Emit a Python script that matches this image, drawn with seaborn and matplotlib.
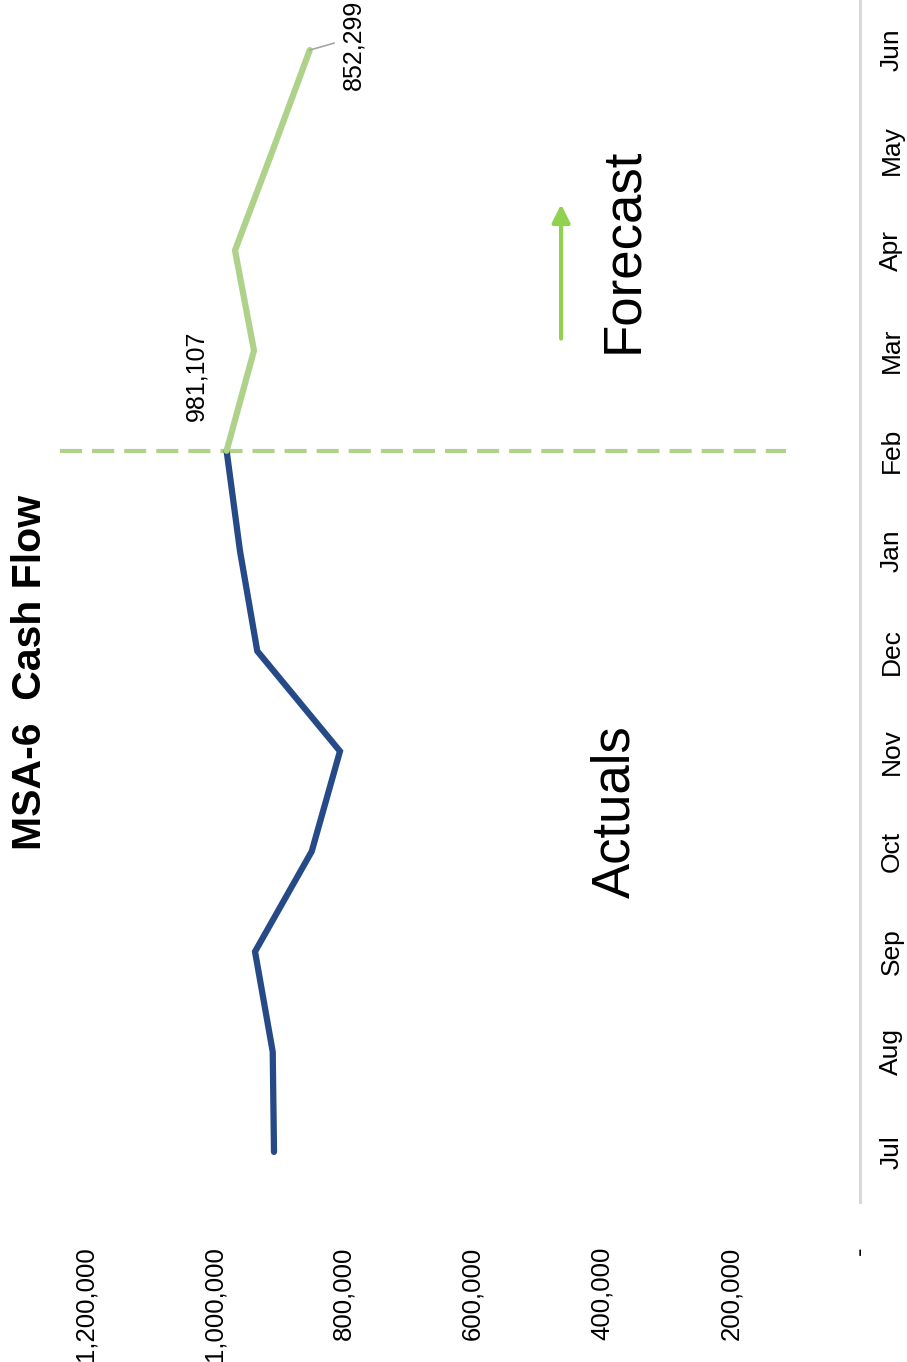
import matplotlib
matplotlib.use("Agg")
import matplotlib.pyplot as plt
import seaborn as sns
import numpy as np
from matplotlib.ticker import FuncFormatter

# ---- data ----
months = ["Jul", "Aug", "Sep", "Oct", "Nov", "Dec", "Jan", "Feb", "Mar", "Apr", "May", "Jun"]
actual_values = [907700, 909700, 937100, 849300, 805500, 933600, 960400, 981107]
forecast_values = [981107, 938700, 968100, 909700, 852299]
value_ticks = [0, 200000, 400000, 600000, 800000, 1000000, 1200000]
title = "MSA-6  Cash Flow"
divider_month = "Feb"

# ---- style ----
sns.set_theme(style="white")
plt.rcParams["font.family"] = ["Liberation Sans", "DejaVu Sans"]

W, H = 907, 1362
fig = plt.figure(figsize=(W / 100, H / 100), dpi=100)
fig.patch.set_facecolor("white")
ax = fig.add_axes([85.3 / W, 160 / H, 774.7 / W, 1202 / H])
ax.set_facecolor("none")

idx_actual = np.arange(len(actual_values))
start_fc = months.index(divider_month)
idx_fc = np.arange(start_fc, start_fc + len(forecast_values))

BLUE = "#254A87"
LGREEN = "#AFD28A"
ARROWGREEN = "#92D050"

sns.lineplot(x=actual_values, y=idx_actual, orient="y", sort=False, color=BLUE,
             linewidth=4.5, ax=ax, solid_capstyle="round", solid_joinstyle="miter")
sns.lineplot(x=forecast_values, y=idx_fc, orient="y", sort=False, color=LGREEN,
             linewidth=4.5, ax=ax, solid_capstyle="round", solid_joinstyle="miter")

ax.set_xlim(1200000, 0)
ax.set_ylim(-0.5, len(months) - 0.5)

# dashed divider between actuals and forecast
ax.plot([1239000, 115000], [start_fc, start_fc], color=LGREEN, lw=3,
        linestyle=(0, (5.3, 2.4)), clip_on=False, zorder=1)

# axis formatting
ax.set_xticks(value_ticks)
ax.xaxis.set_major_formatter(FuncFormatter(lambda v, p: "-" if v == 0 else f"{v:,.0f}"))
ax.tick_params(axis="x", labelrotation=90, length=0, pad=32, labelsize=18.5, colors="black")
ax.yaxis.tick_right()
ax.set_yticks(range(len(months)))
ax.set_yticklabels(months, rotation=90, va="center", ha="left")
ax.tick_params(axis="y", length=0, pad=14, labelsize=19, colors="black")
ax.set_xlabel("")
ax.set_ylabel("")
ax.grid(False)
for s in ["top", "left", "bottom"]:
    ax.spines[s].set_visible(False)
ax.spines["right"].set_color("#D9D9D9")
ax.spines["right"].set_linewidth(2.2)

# data labels
ax.text(1028500, 7.75, f"{actual_values[-1]:,}", rotation=90, ha="center", va="center",
        fontsize=18, color="black")
ax.plot([forecast_values[-1], 814300], [idx_fc[-1], 11.07], color="#A6A6A6", lw=1.2, clip_on=False)
ax.text(785000, 10.60, f"{forecast_values[-1]:,}", rotation=90, ha="center", va="bottom",
        fontsize=18, color="black", clip_on=False)

# annotations
ax.text(379500, 3.40, "Actuals", rotation=90, ha="center", va="center", fontsize=38, color="black")
ax.text(367000, 9.0, "Forecast", rotation=90, ha="center", va="center", fontsize=38, color="black")
ax.annotate("", xy=(463000, 9.46), xytext=(463000, 8.12),
            arrowprops=dict(arrowstyle="-|>,head_length=0.9,head_width=0.45",
                            color=ARROWGREEN, lw=3, shrinkA=0, shrinkB=0))

# title
fig.text(30 / W, 1 - 672 / H, title, rotation=90, ha="center", va="center",
         fontsize=29.5, fontweight="bold", color="black")

fig.savefig("out.png", dpi=100)
